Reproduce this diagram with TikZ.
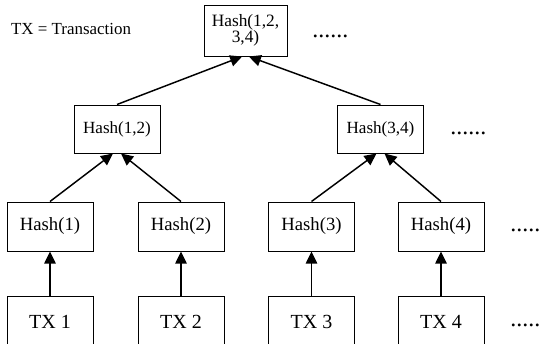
\documentclass[tikz,border=0pt]{standalone}
\usepackage{fontspec}
\setmainfont{Liberation Serif}
\usetikzlibrary{arrows.meta}
\tikzset{
	box/.style={draw, line width=0.75pt, inner sep=0pt, minimum width=64.5pt, align=center},
	rootbox/.style={box, minimum width=62.25pt, minimum height=38.25pt, font=\fontsize{13}{12}\selectfont},
	pairbox/.style={box, minimum height=36pt, font=\fontsize{12.8}{14}\selectfont},
	leafbox/.style={box, minimum height=36.75pt, font=\fontsize{14}{16}\selectfont},
	txbox/.style={box, minimum height=39pt, font=\fontsize{15}{17}\selectfont},
	more/.style={inner sep=0pt, anchor=base west, font=\fontsize{18}{20}\selectfont},
	link/.style={-{Triangle[length=9pt,width=8.5pt]}, line width=1.1pt},
}
\begin{document}
\begin{tikzpicture}[x=0.75pt,y=-0.75pt]
		\useasboundingbox (0,0) rectangle (543,343);
		\clip (0,0) rectangle (543,343);
		\node[inner sep=0pt, font=\fontsize{12.7}{14}\selectfont] (legend) at (71,29) {TX = Transaction};
		\node[rootbox] (H1234) at (245.5,30.5) {Hash(1,2,\\3,4)};
		\node[pairbox] (H12) at (117,129) {Hash(1,2)};
		\node[pairbox] (H34) at (380.5,129) {Hash(3,4)};
		\node[leafbox] (H1) at (50,226.5) {Hash(1)};
		\node[leafbox] (H2) at (181,226.5) {Hash(2)};
		\node[leafbox] (H3) at (311.5,226.5) {Hash(3)};
		\node[leafbox] (H4) at (441,226.5) {Hash(4)};
		\node[txbox] (TX1) at (50,322) {TX 1};
		\node[txbox] (TX2) at (181,322) {TX 2};
		\node[txbox] (TX3) at (311.5,322) {TX 3};
		\node[txbox] (TX4) at (441,322) {TX 4};
		\node[more] (M1) at (312,37) {......};
		\node[more] (M2) at (450,134) {......};
		\node[more] (M3) at (510,231) {.....};
		\node[more] (M4) at (510,326) {.....};
		\draw[link] (TX1) -- (H1);
		\draw[link] (TX2) -- (H2);
		\draw[link] (TX3) -- (H3);
		\draw[link] (TX4) -- (H4);
		\draw[link] (H1.north) -- ([xshift=-3pt]H12.south);
		\draw[link] (H2.north) -- ([xshift=3pt]H12.south);
		\draw[link] (H3.north) -- ([xshift=-3pt]H34.south);
		\draw[link] (H4.north) -- ([xshift=3pt]H34.south);
		\draw[link] (H12.north) -- ([xshift=-2.5pt]H1234.south);
		\draw[link] (H34.north) -- ([xshift=2.5pt]H1234.south);
	\end{tikzpicture}
\end{document}
